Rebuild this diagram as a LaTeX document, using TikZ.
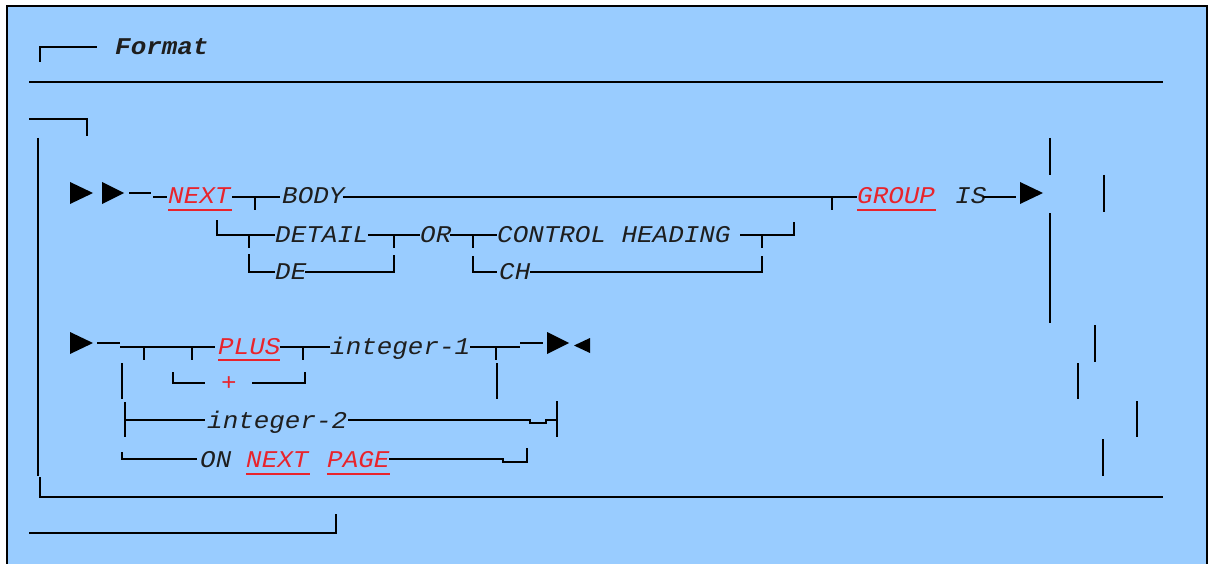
\documentclass[tikz,border=0pt]{standalone}
\usepackage{fontspec}
\newfontfamily\codefont[FakeStretch=1.08]{Liberation Mono}
\definecolor{bgblue}{RGB}{153,204,255}
\definecolor{kwred}{RGB}{232,36,44}
\definecolor{txt}{RGB}{30,30,30}
\tikzset{
  rail/.style={line width=2.8pt, line cap=butt},
  bar/.style={line width=2.8pt},
  lbl/.style={anchor=base west, inner sep=0pt, text=txt, font=\codefont\itshape\fontsize{24}{28}\selectfont},
  kw/.style={lbl, text=kwred},
  uline/.style={kwred, line width=1.4pt},
  tri/.style={fill=black, draw=none}
}
\begin{document}
\begin{tikzpicture}[x=1pt,y=-1pt]
\path[use as bounding box] (0,0) rectangle (1209,564);
\fill[white] (0,0) rectangle (1209,564);
\filldraw[fill=bgblue, draw=black, line width=1.5pt] (7,6) rectangle (1207,580);

% heading
\draw[rail] (40,62) -- (40,47) -- (97,47);
\node[lbl, font=\codefont\bfseries\itshape\fontsize{24}{28}\selectfont] (fmt) at (115,55) {Format};
\draw[rail] (29,82) -- (1163,82);
\draw[rail] (29,119) -- (87,119) -- (87,136);
\draw[bar] (38,138) -- (38,476);
\draw[rail] (40,477) -- (40,497) -- (1163,497);
\draw[rail] (29,533) -- (336,533) -- (336,514);

% row 1
\fill[tri] (70,182) -- (93,193) -- (70,204) -- cycle;
\fill[tri] (102,182) -- (124,193) -- (102,204) -- cycle;
\draw[rail] (129,193) -- (151,193);
\draw[rail] (153,197) -- (167,197);
\node[kw] (next1) at (168,204) {NEXT};
\draw[uline] (168,210) -- (232,210);
\draw[rail] (232,197) -- (280,197);
\draw[rail] (255,197) -- (255,210);
\node[lbl] (body) at (282,204) {BODY};
\draw[rail] (343,197) -- (857,197);
\draw[rail] (832,197) -- (832,210);
\node[kw] (group) at (857,204) {GROUP};
\draw[uline] (857,210) -- (936,210);
\node[lbl] (is) at (955,204) {IS};
\draw[rail] (983,197) -- (1016,197);
\fill[tri] (1020,182) -- (1043,193) -- (1020,204) -- cycle;

% row 2
\draw[rail] (217,220) -- (217,235) -- (275,235);
\draw[rail] (249,235) -- (249,248);
\node[lbl] (detail) at (275,242) {DETAIL};
\draw[rail] (368,235) -- (420,235);
\draw[rail] (394,235) -- (394,248);
\node[lbl] (or) at (420,242) {OR};
\draw[rail] (450,235) -- (497,235);
\draw[rail] (473,235) -- (473,248);
\node[lbl] (ctl) at (497,242) {CONTROL HEADING};
\draw[rail] (740,235) -- (794,235) -- (794,222);
\draw[rail] (762,235) -- (762,248);

% row 3
\draw[rail] (249,254) -- (249,272) -- (275,272);
\node[lbl] (de) at (275,279) {DE};
\draw[rail] (305,272) -- (394,272) -- (394,255);
\draw[rail] (473,256) -- (473,272) -- (497,272);
\node[lbl] (ch) at (499,279) {CH};
\draw[rail] (530,272) -- (762,272) -- (762,256);

% right bars
\draw[bar] (1050,138) -- (1050,175);
\draw[bar] (1050,213) -- (1050,323);
\draw[bar] (1104,175) -- (1104,212);
\draw[bar] (1095,325) -- (1095,362);
\draw[bar] (1078,363) -- (1078,399);
\draw[bar] (1137,401) -- (1137,437);
\draw[bar] (1103,439) -- (1103,476);

% row 4
\fill[tri] (70,332) -- (93,343) -- (70,354) -- cycle;
\draw[rail] (97,343) -- (120,343);
\draw[rail] (120,347) -- (215,347);
\draw[rail] (144,347) -- (144,360);
\draw[rail] (192,347) -- (192,360);
\node[kw] (plus) at (218,354) {PLUS};
\draw[uline] (218,360) -- (280,360);
\draw[rail] (280,347) -- (330,347);
\draw[rail] (303,347) -- (303,360);
\node[lbl] (int1) at (330,354) {integer-1};
\draw[rail] (470,347) -- (520,347);
\draw[rail] (496,347) -- (496,360);
\draw[rail] (520,343) -- (543,343);
\fill[tri] (547,332) -- (569,343) -- (547,354) -- cycle;
\fill[tri] (590,338) -- (574,345.5) -- (590,353) -- cycle;

% row 5
\draw[bar] (122,363) -- (122,399);
\draw[rail] (173,372) -- (173,383) -- (205,383);
\node[kw, anchor=base] (plussign) at (229,390) {+};
\draw[rail] (252,383) -- (305,383) -- (305,372);
\draw[bar] (497,363) -- (497,399);

% row 6
\draw[bar] (125,402) -- (125,437);
\draw[rail] (125,420) -- (205,420);
\node[lbl] (int2) at (207,428) {integer-2};
\draw[rail] (348,420) -- (530,420) -- (530,423) -- (546,423) -- (546,420) -- (557,420);
\draw[bar] (557,401) -- (557,437);

% row 7
\draw[rail] (122,452) -- (122,459) -- (197,459);
\node[lbl] (on) at (200,467) {ON};
\node[kw] (next2) at (246,467) {NEXT};
\draw[uline] (246,474) -- (310,474);
\node[kw] (page) at (327,467) {PAGE};
\draw[uline] (327,474) -- (390,474);
\draw[rail] (389,459) -- (503,459) -- (503,462) -- (527,462) -- (527,448);
\end{tikzpicture}
\end{document}
